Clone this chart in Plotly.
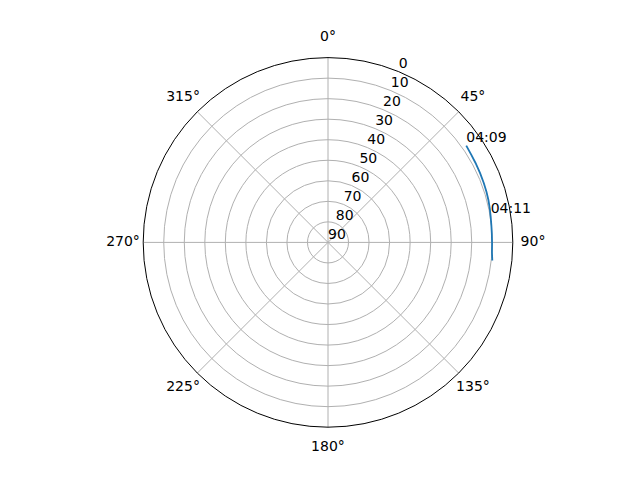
import plotly.graph_objects as go

# Satellite track (azimuth deg, elevation deg)
azimuth = [55.0, 58.5, 61.7, 65.5, 69.2, 72.3, 75.2, 78.2, 81.1, 84.0, 87.0, 90.5, 93.5, 96.3]
elevation = [7.8, 8.2, 8.4, 8.6, 8.8, 9.0, 9.2, 9.5, 9.8, 10.0, 10.1, 10.1, 10.0, 9.5]

label_times = ["04:09", "04:11"]
label_az = [55.0, 81.1]
label_el = [7.8, 9.8]

radial_ticks = [0, 10, 20, 30, 40, 50, 60, 70, 80, 90]
radial_label_angle = 22.5

angular_ticks = [0, 45, 90, 135, 180, 225, 270, 315]

FONT = "DejaVu Sans"
FS = 14

W, H = 640, 480
# main polar domain (matplotlib default axes box)
dom_x = [80 / W, 576 / W]
dom_y = [0.11, 0.88]
R = (dom_y[1] - dom_y[0]) * H / 2          # outer ring radius in px
EXTRA = 24                                  # px added for the label polar
dom2_x = [dom_x[0] - EXTRA / W, dom_x[1] + EXTRA / W]
dom2_y = [dom_y[0] - EXTRA / H, dom_y[1] + EXTRA / H]
label_r = (R + 20.2) / (R + EXTRA)          # fraction of label-polar radius

fig = go.Figure()
fig.add_trace(go.Scatterpolar(
    theta=azimuth, r=elevation, mode="lines",
    line=dict(color="#1f77b4", width=1.8), showlegend=False, hoverinfo="skip"))
fig.add_trace(go.Scatterpolar(
    theta=label_az, r=label_el, mode="text", text=label_times,
    textposition="top right", textfont=dict(family=FONT, size=FS, color="black"),
    showlegend=False, hoverinfo="skip", cliponaxis=False))
fig.add_trace(go.Scatterpolar(
    theta=[radial_label_angle] * len(radial_ticks), r=radial_ticks, mode="text",
    text=[str(v) for v in radial_ticks],
    textposition="top right", textfont=dict(family=FONT, size=FS, color="black"),
    showlegend=False, hoverinfo="skip", cliponaxis=False))
fig.add_trace(go.Scatterpolar(
    theta=angular_ticks, r=[label_r] * len(angular_ticks), mode="text",
    text=[f"{a}°" for a in angular_ticks], subplot="polar2",
    textposition="middle center", textfont=dict(family=FONT, size=FS, color="black"),
    showlegend=False, hoverinfo="skip", cliponaxis=False))

fig.update_layout(
    width=W, height=H,
    margin=dict(l=0, r=0, t=0, b=0),
    paper_bgcolor="white",
    font=dict(family=FONT, size=FS, color="black"),
    polar=dict(
        domain=dict(x=dom_x, y=dom_y),
        bgcolor="white",
        angularaxis=dict(
            rotation=90, direction="clockwise",
            tickmode="linear", tick0=0, dtick=45, showticklabels=False,
            showline=True, linecolor="black", linewidth=1,
            gridcolor="#b0b0b0", gridwidth=0.8, ticks=""),
        radialaxis=dict(
            range=[90, 0], tickvals=radial_ticks, showticklabels=False,
            angle=67.5, showline=False, ticks="",
            gridcolor="#b0b0b0", gridwidth=0.8),
    ),
    polar2=dict(
        domain=dict(x=dom2_x, y=dom2_y),
        bgcolor="rgba(0,0,0,0)",
        angularaxis=dict(rotation=90, direction="clockwise", showticklabels=False,
                         showline=False, showgrid=False, ticks=""),
        radialaxis=dict(range=[0, 1], visible=False, showgrid=False),
    ),
)

fig.write_html("out.html", config={"displayModeBar": False},
               post_script="document.body.style.margin='0';")
